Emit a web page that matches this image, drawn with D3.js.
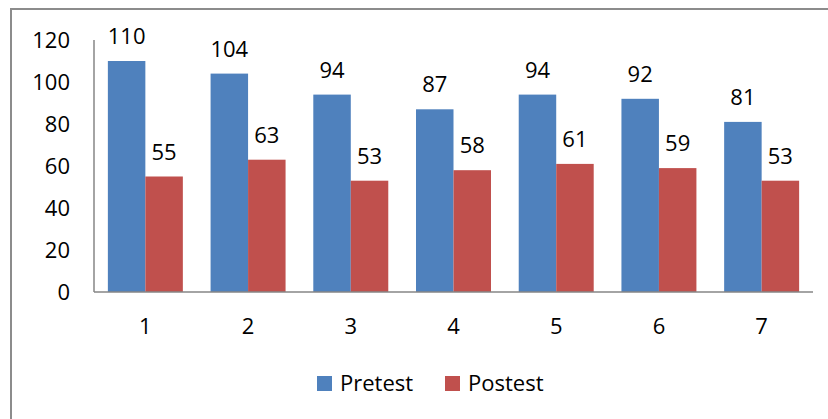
<!DOCTYPE html>
<html>
<head>
<meta charset="utf-8" />
<title>Pretest vs Postest</title>
<script src="https://d3js.org/d3.v7.min.js"></script>
<style>
body { margin: 0; padding: 0; background: #fff; }
svg { display: block; }
text { font-family: 'Open Sans', sans-serif; fill: #000; }
.axis path { stroke: #868686; stroke-width: 1.5; fill: none; }
.axis line { display: none; }
.axis text { font-size: 22px; font-family: 'Open Sans', sans-serif; }
.label { font-size: 22px; text-anchor: middle; }
.legend text { font-size: 22px; }
</style>
</head>
<body>
<script>
var categories = ["1", "2", "3", "4", "5", "6", "7"];
var seriesNames = ["Pretest", "Postest"];
var pretest = [110, 104, 94, 87, 94, 92, 81];
var postest = [55, 63, 53, 58, 61, 59, 53];
var yTicks = [0, 20, 40, 60, 80, 100, 120];
var colors = ["#4F81BD", "#C0504D"];

var width = 828, height = 419;
var plot = { left: 94, right: 813, top: 40, bottom: 292 };

var svg = d3.select("body").append("svg")
    .attr("width", width)
    .attr("height", height);

// outer frame (runs off right/bottom edge)
svg.append("rect")
    .attr("x", 11).attr("y", 9)
    .attr("width", width).attr("height", height)
    .attr("fill", "none")
    .attr("stroke", "#8c8c8c")
    .attr("stroke-width", 2);

var x0 = d3.scaleBand()
    .domain(categories)
    .range([plot.left, plot.right])
    .paddingInner(0.27)
    .paddingOuter(0.135);

var x1 = d3.scaleBand()
    .domain(seriesNames)
    .range([0, x0.bandwidth()]);

var y = d3.scaleLinear()
    .domain([0, 120])
    .range([plot.bottom, plot.top]);

var rows = categories.map(function (c, i) {
    return { cat: c, values: [pretest[i], postest[i]] };
});

var groups = svg.append("g").selectAll("g")
    .data(rows)
    .enter().append("g")
    .attr("transform", function (d) { return "translate(" + x0(d.cat) + ",0)"; });

groups.selectAll("rect")
    .data(function (d) { return d.values.map(function (v, j) { return { name: seriesNames[j], v: v, j: j }; }); })
    .enter().append("rect")
    .attr("x", function (d) { return x1(d.name); })
    .attr("y", function (d) { return y(d.v); })
    .attr("width", x1.bandwidth())
    .attr("height", function (d) { return plot.bottom - y(d.v); })
    .attr("fill", function (d) { return colors[d.j]; });

groups.selectAll("text")
    .data(function (d) { return d.values.map(function (v, j) { return { name: seriesNames[j], v: v }; }); })
    .enter().append("text")
    .attr("class", "label")
    .attr("x", function (d) { return x1(d.name) + x1.bandwidth() / 2; })
    .attr("y", function (d) { return y(d.v) - 17; })
    .text(function (d) { return d.v; });

// y axis
var yAxis = d3.axisLeft(y).tickValues(yTicks).tickSize(0).tickPadding(24);
svg.append("g")
    .attr("class", "axis")
    .attr("transform", "translate(" + plot.left + ",0)")
    .call(yAxis)
    .call(function (g) { g.select(".domain").attr("d", "M0," + plot.top + "V" + plot.bottom); });

// x axis
var xAxis = d3.axisBottom(x0).tickSize(0).tickPadding(26);
svg.append("g")
    .attr("class", "axis")
    .attr("transform", "translate(0," + plot.bottom + ")")
    .call(xAxis)
    .call(function (g) { g.select(".domain").attr("d", "M" + plot.left + ",0H" + plot.right); });

// legend
var legendItems = [{ x: 317, name: seriesNames[0], c: colors[0] }, { x: 445, name: seriesNames[1], c: colors[1] }];
var legend = svg.append("g").attr("class", "legend");
legendItems.forEach(function (d) {
    legend.append("rect")
        .attr("x", d.x).attr("y", 376)
        .attr("width", 15).attr("height", 15)
        .attr("fill", d.c);
    legend.append("text")
        .attr("x", d.x + 23).attr("y", 391)
        .text(d.name);
});
</script>
</body>
</html>
